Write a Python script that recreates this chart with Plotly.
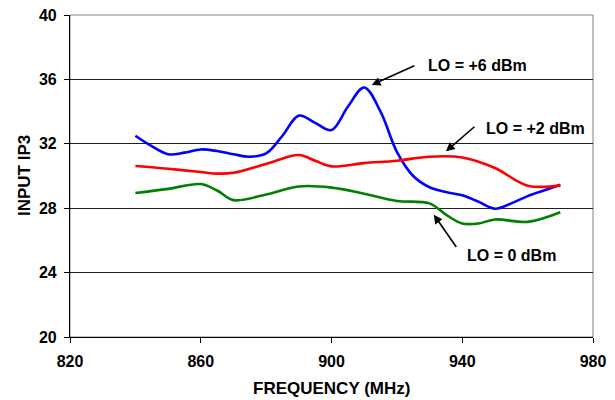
import plotly.graph_objects as go

freq_lo6 = [840, 845, 850, 855, 860, 865, 870, 875, 880, 885, 890, 895, 900, 905, 910, 915, 920, 925, 930, 935, 940, 945, 950, 955, 960, 965, 970]
ip3_lo6 = [32.5, 31.85, 31.35, 31.45, 31.65, 31.55, 31.35, 31.2, 31.4, 32.5, 33.75, 33.3, 32.85, 34.3, 35.5, 34.0, 31.5, 30.0, 29.3, 29.0, 28.8, 28.4, 27.97, 28.3, 28.75, 29.1, 29.45]

freq_lo2 = [840, 850, 860, 865, 870, 880, 890, 895, 900, 910, 920, 930, 940, 950, 960, 970]
ip3_lo2 = [30.62, 30.45, 30.25, 30.15, 30.2, 30.75, 31.3, 30.95, 30.6, 30.8, 30.95, 31.2, 31.15, 30.5, 29.4, 29.42]

freq_lo0 = [840, 850, 860, 865, 870, 880, 890, 900, 910, 920, 930, 935, 940, 945, 950, 960, 970]
ip3_lo0 = [28.94, 29.2, 29.5, 29.1, 28.5, 28.85, 29.35, 29.28, 28.9, 28.45, 28.3, 27.6, 27.05, 27.05, 27.3, 27.15, 27.75]

x_ticks = [820, 860, 900, 940, 980]
y_ticks = [20, 24, 28, 32, 36, 40]
labels = ["LO = +6 dBm", "LO = +2 dBm", "LO = 0 dBm"]
x_title = "FREQUENCY (MHz)"
y_title = "INPUT IP3"

font_family = "Liberation Sans, Arial, sans-serif"

fig = go.Figure()
for xs, ys, col, name in [(freq_lo6, ip3_lo6, "#0000FF", labels[0]),
                          (freq_lo2, ip3_lo2, "#FF0000", labels[1]),
                          (freq_lo0, ip3_lo0, "#008000", labels[2])]:
    fig.add_trace(go.Scatter(x=xs, y=ys, mode="lines", name=name,
                             line=dict(color=col, width=2.6, shape="spline", smoothing=1)))

# annotation arrows and labels
arrows = [
    (912.3, 35.65, 925.8, 36.89, 944.6, 36.85, labels[0]),
    (935.0, 31.53, 944.2, 33.14, 962.5, 32.97, labels[1]),
    (931.3, 27.60, 938.5, 25.5, 955.2, 25.09, labels[2]),
]
for hx, hy, tx, ty, lx, ly, txt in arrows:
    fig.add_annotation(x=hx, y=hy, ax=tx, ay=ty, xref="x", yref="y", axref="x", ayref="y",
                       text="", showarrow=True, arrowhead=2, arrowsize=1.1, arrowwidth=1.6,
                       arrowcolor="black")
    fig.add_annotation(x=lx, y=ly, xref="x", yref="y", text=txt,
                       showarrow=False,
                       font=dict(family=font_family, size=16, color="black", weight="bold"))

# axis titles
fig.add_annotation(x=0.5, y=0, xref="paper", yref="paper", yshift=-51, text=x_title,
                   showarrow=False, xanchor="center", yanchor="middle",
                   font=dict(family=font_family, size=17, color="black", weight="bold"))
fig.add_annotation(x=0, y=0.5, xref="paper", yref="paper", xshift=-46, text=y_title,
                   showarrow=False, textangle=-90, xanchor="center", yanchor="middle",
                   font=dict(family=font_family, size=17, color="black", weight="bold"))

# plot border (gray top/right)
fig.add_shape(type="rect", xref="paper", yref="paper", x0=0, y0=0, x1=1, y1=1,
              line=dict(color="#808080", width=1), layer="below")

tickfont = dict(family=font_family, size=16, color="black", weight="bold")
fig.update_layout(
    width=607, height=392,
    margin=dict(l=62, r=22, t=6.5, b=62.5, autoexpand=False),
    paper_bgcolor="white", plot_bgcolor="white",
    showlegend=False,
    font=dict(family=font_family, size=13, color="black"),
    xaxis=dict(range=[820, 980], tickvals=x_ticks, showgrid=False, automargin=False,
               showline=True, linecolor="black", linewidth=1.2,
               ticks="outside", ticklen=5, tickcolor="black",
               tickfont=tickfont, ticklabelstandoff=5, ticklabeloverflow="allow",
               zeroline=False),
    yaxis=dict(range=[20, 40], tickvals=y_ticks, showgrid=True, automargin=False,
               gridcolor="#202020", gridwidth=1,
               showline=True, linecolor="black", linewidth=1.2,
               ticks="outside", ticklen=5, tickcolor="black",
               tickfont=tickfont, ticklabelstandoff=4, ticklabeloverflow="allow",
               zeroline=False),
)

fig.write_html("out.html")
